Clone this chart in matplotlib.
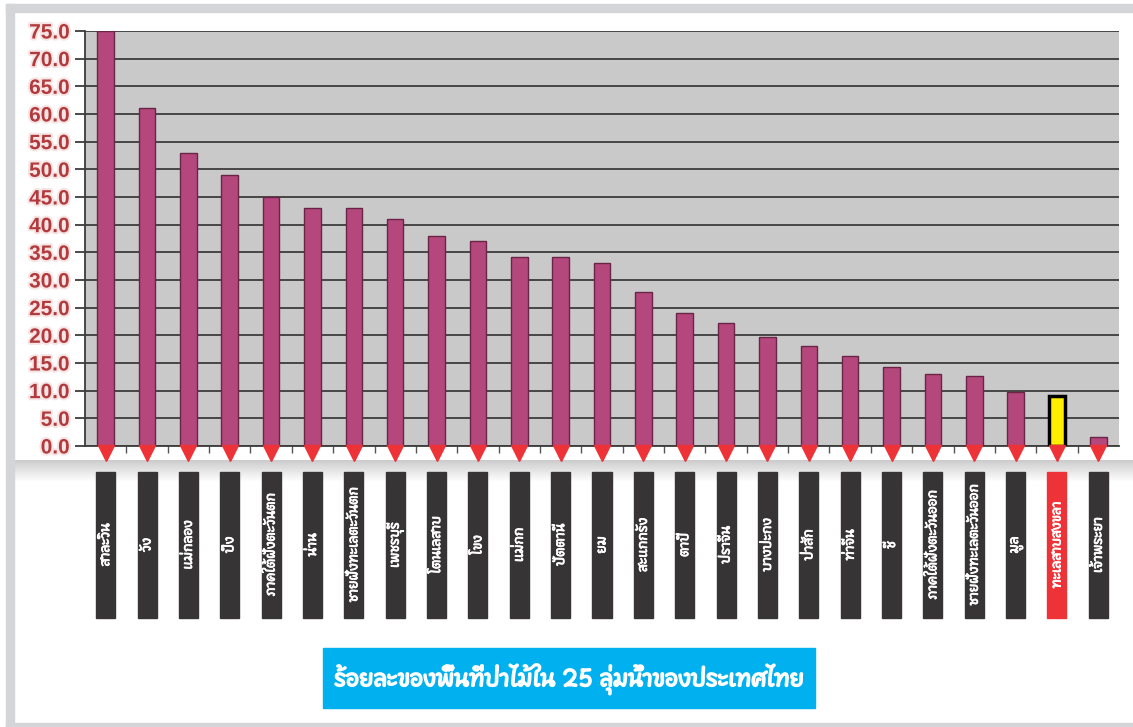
import numpy as np
import matplotlib
matplotlib.use('Agg')
import matplotlib.pyplot as plt
import matplotlib.patheffects as pe
from matplotlib.patches import Rectangle
from matplotlib.transforms import blended_transform_factory
from matplotlib import font_manager as fm
from matplotlib.ft2font import FT2Font

# data: percent of forest area in 25 river basins of Thailand
# ========================================
basins = ['สาละวิน', 'วัง', 'แม่กลอง', 'ปิง', 'ภาคใต้ฝั่งตะวันตก', 'น่าน',
          'ชายฝั่งทะเลตะวันตก', 'เพชรบุรี', 'โตนเลสาบ', 'โขง', 'แม่กก',
          'ปัตตานี', 'ยม', 'สะแกกรัง', 'ตาปี', 'ปราจีน', 'บางปะกง', 'ป่าสัก',
          'ท่าจีน', 'ชี', 'ภาคใต้ฝั่งตะวันออก', 'ชายฝั่งทะเลตะวันออก', 'มูล',
          'ทะเลสาบสงขลา', 'เจ้าพระยา']
forest_pct = [75.0, 61.0, 53.0, 49.0, 45.0, 43.0, 43.0, 41.0, 38.0, 37.0,
              34.2, 34.2, 33.1, 27.8, 24.0, 22.2, 19.7, 18.0, 16.3, 14.3,
              13.0, 12.7, 9.8, 9.0, 1.6]
highlight = 'ทะเลสาบสงขลา'
title = 'ร้อยละของพื้นที่ป่าไม้ใน 25 ลุ่มน้ำของประเทศไทย'
yticks = np.arange(0, 80, 5)

# find a font that has Thai glyphs
# ========================================
thai_font = None
for f in fm.fontManager.ttflist:
    try:
        if 0x0E01 in FT2Font(f.fname).get_charmap():
            if thai_font is None or 'Thai' in f.name:
                thai_font = f.name
    except Exception:
        pass
families = [thai_font, 'DejaVu Sans'] if thai_font else ['DejaVu Sans']
plt.rcParams['font.family'] = families

W, H = 1133, 727
fig = plt.figure(figsize=(W / 100, H / 100), dpi=100, facecolor='white')

# outer frame
frame_col = '#d4d5d7'
for (x0, y0, w, h) in [(6, 4, W - 6, 8), (6, 4, 8, H - 4), (6, H - 4, W - 6, 4)]:
    fig.patches.append(Rectangle((x0 / W, 1 - (y0 + h) / H), w / W, h / H,
                                 transform=fig.transFigure, color=frame_col, zorder=0))

# gray band below the plot
band = fig.add_axes([14 / W, 1 - 482 / H, (W - 14) / W, 22 / H])
grad = np.linspace(0.80, 1.0, 50).reshape(-1, 1)
band.imshow(grad, aspect='auto', cmap='gray', vmin=0, vmax=1, extent=[0, 1, 0, 1])
band.axis('off')

# main axes
# ========================================
ax = fig.add_axes([85 / W, 1 - 446 / H, (1119 - 85) / W, (446 - 31) / H])
ax.set_facecolor('#c9c9c9')
x = np.arange(len(basins))
colors = ['#ffee00' if b == highlight else '#b4487c' for b in basins]
edges = ['#000000' if b == highlight else '#6a2446' for b in basins]
lws = [2.5 if b == highlight else 1.0 for b in basins]
ax.bar(x, forest_pct, width=0.4, color=colors, edgecolor=edges, linewidth=lws, zorder=3)

ax.set_xlim(-0.5, len(basins) - 0.5)
ax.set_ylim(0, 75)
ax.set_yticks(yticks)
ax.set_yticklabels(['%.1f' % v for v in yticks], family='Liberation Sans',
                   fontweight='bold', fontsize=15, color='#b23a3c',
                   path_effects=[pe.withStroke(linewidth=3, foreground='#f7e4e4')])
ax.yaxis.grid(True, color='#3c3c3c', linewidth=1.3, zorder=1)
ax.tick_params(axis='y', length=7, width=1.3, color='#3c3c3c', pad=4)
ax.set_xticks([])
ax.set_xticks(x[:-1] + 0.5, minor=True)
ax.tick_params(axis='x', which='minor', length=5, width=1, color='#555555')
for s in ['top', 'right']:
    ax.spines[s].set_visible(False)
ax.spines['left'].set_color('#3c3c3c')
ax.spines['bottom'].set_color('#3c3c3c')
ax.spines['left'].set_linewidth(1.3)
ax.spines['bottom'].set_linewidth(1.3)

# red triangle markers under each bar
ax.plot(x, np.full(len(x), -1.3), ls='', marker='v', markersize=11,
        color='#ee3338', clip_on=False, zorder=4)

# label boxes with vertical Thai names
# ========================================
tr = blended_transform_factory(ax.transData, fig.transFigure)
box_bot, box_top = 1 - 618 / H, 1 - 472 / H
for xi, name in zip(x, basins):
    col = '#ee3338' if name == highlight else '#363435'
    fig.patches.append(Rectangle((xi - 0.23, box_bot), 0.46, box_top - box_bot,
                                 transform=tr, color=col, zorder=2))
    fig.text(xi, (box_bot + box_top) / 2, name, transform=tr, rotation=90,
             ha='center', va='center', color='white', fontsize=9.5, zorder=3,
             path_effects=[pe.withStroke(linewidth=0.6, foreground='white')])

# title box
# ========================================
fig.patches.append(Rectangle((323 / W, 1 - 708 / H), (815 - 323) / W, 60 / H,
                             transform=fig.transFigure, color='#00b0ef', zorder=2))
fig.text(569 / W, 1 - 679 / H, title, ha='center', va='center', color='white',
         fontsize=16, zorder=3,
         path_effects=[pe.withStroke(linewidth=1.2, foreground='white')])

fig.savefig('out.png', dpi=100, facecolor='white')
